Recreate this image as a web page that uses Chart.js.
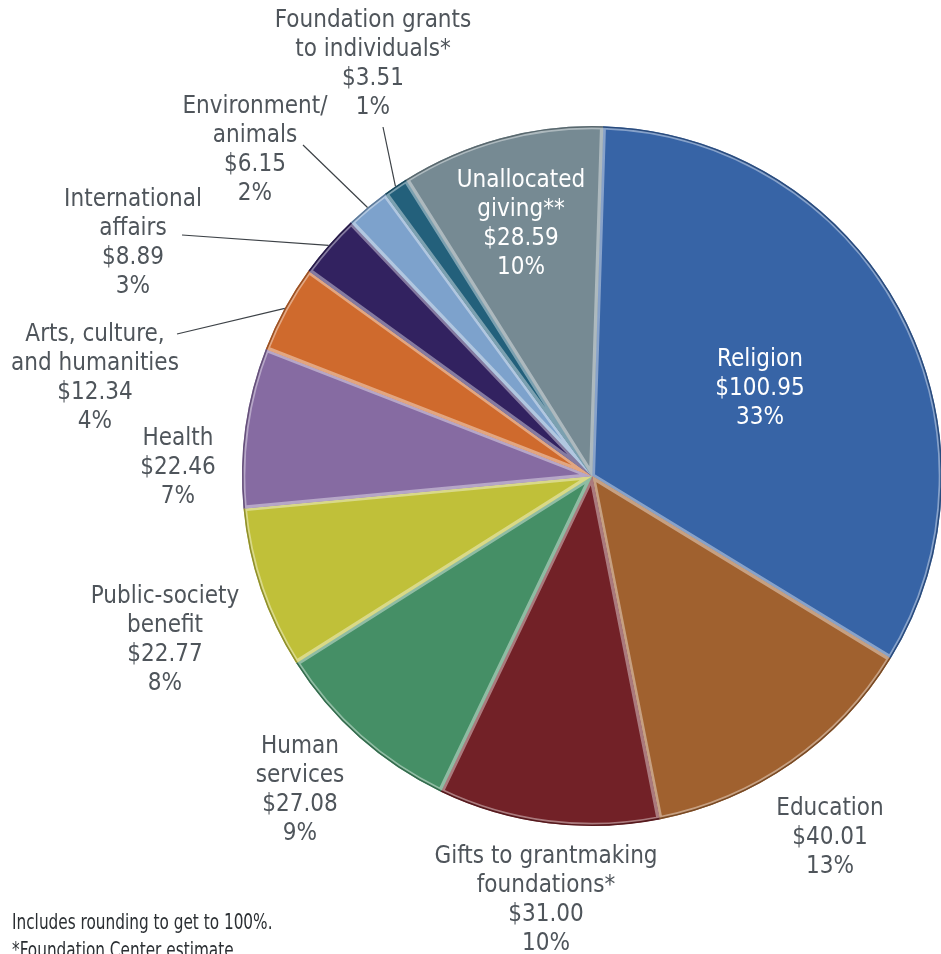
<!DOCTYPE html>
<html>
<head>
<meta charset="utf-8">
<script src="https://cdn.jsdelivr.net/npm/chart.js@4.4.1/dist/chart.umd.min.js"></script>
<style>
    html, body { margin: 0; padding: 0; background: #fff; }
    #wrap { position: relative; width: 941px; height: 954px; overflow: hidden; }
    #chartGiving { position: absolute; left: 0; top: 0; }
    .nota {
        position: absolute; left: 12px; white-space: nowrap;
        font-family: 'DejaVu Sans Condensed', 'DejaVu Sans', sans-serif;
        font-size: 21px; line-height: 24px; color: #2b2f33;
        transform: scaleX(0.81); transform-origin: left top;
    }
</style>
</head>
<body>
<div id="wrap">
    <canvas id="chartGiving" width="960" height="954"></canvas>
    <div class="nota" style="top: 910px;">Includes rounding to get to 100%.</div>
    <div class="nota" style="top: 938px;">*Foundation Center estimate</div>
</div>

<script>
// billions of dollars, clockwise from the top
var categorie = [
    'Religion',
    'Education',
    'Gifts to grantmaking\nfoundations*',
    'Human\nservices',
    'Public-society\nbenefit',
    'Health',
    'Arts, culture,\nand humanities',
    'International\naffairs',
    'Environment/\nanimals',
    'Foundation grants\nto individuals*',
    'Unallocated\ngiving**'
];
var importi = [100.95, 40.01, 31.00, 27.08, 22.77, 22.46, 12.34, 8.89, 6.15, 3.51, 28.59];
var percentuali = ['33%', '13%', '10%', '9%', '8%', '7%', '4%', '3%', '2%', '1%', '10%'];

var colori = ['#3764a6', '#a0612f', '#722127', '#458f66', '#c0c039', '#866ba2',
              '#cf6a2d', '#322260', '#7da2cc', '#23607b', '#768a93'];

// label block centre, offset from the pie centre; lead = start of the leader line
var posEtichette = [
    { dx: 168, dy: -87, bianco: true },
    { dx: 238, dy: 362 },
    { dx: -46, dy: 424 },
    { dx: -292, dy: 314 },
    { dx: -427, dy: 164 },
    { dx: -414, dy: -8 },
    { dx: -497, dy: -98, lead: [-415, -142] },
    { dx: -459, dy: -233, lead: [-410, -241] },
    { dx: -337, dy: -326, lead: [-289, -331] },
    { dx: -219, dy: -412, lead: [-209, -349] },
    { dx: -71, dy: -252, bianco: true }
];

function mescola(hex, target, t) {
    var n = parseInt(hex.slice(1), 16);
    var r = (n >> 16) & 255, g = (n >> 8) & 255, b = n & 255;
    r = Math.round(r + (target - r) * t);
    g = Math.round(g + (target - g) * t);
    b = Math.round(b + (target - b) * t);
    return 'rgb(' + r + ',' + g + ',' + b + ')';
}

var bordiChiari = colori.map(function(c) { return mescola(c, 255, 0.4); });
var bordiScuri = colori.map(function(c) { return mescola(c, 0, 0.25); });

var FONT = "24px 'DejaVu Sans Condensed', 'DejaVu Sans', sans-serif";
var RIGA = 29;

// darker rim round the outside of each slice
var bordoEsterno = {
    id: 'bordoEsterno',
    afterDatasetsDraw: function(chart) {
        var ctx = chart.ctx;
        var meta = chart.getDatasetMeta(0);
        ctx.save();
        meta.data.forEach(function(arc, i) {
            ctx.beginPath();
            ctx.arc(arc.x, arc.y, arc.outerRadius - 0.8, arc.startAngle, arc.endAngle);
            ctx.strokeStyle = bordiScuri[i];
            ctx.lineWidth = 1.6;
            ctx.stroke();
        });
        ctx.restore();
    }
};

var etichette = {
    id: 'etichette',
    afterDraw: function(chart) {
        var ctx = chart.ctx;
        var meta = chart.getDatasetMeta(0);
        ctx.save();
        ctx.font = FONT;
        ctx.textAlign = 'center';
        ctx.textBaseline = 'middle';
        meta.data.forEach(function(arc, i) {
            var pos = posEtichette[i];
            var righe = categorie[i].split('\n');
            righe.push('$' + importi[i].toFixed(2));
            righe.push(percentuali[i]);

            if (pos.lead) {
                var mid = (arc.startAngle + arc.endAngle) / 2;
                ctx.beginPath();
                ctx.moveTo(arc.x + pos.lead[0], arc.y + pos.lead[1]);
                ctx.lineTo(arc.x + Math.cos(mid) * arc.outerRadius, arc.y + Math.sin(mid) * arc.outerRadius);
                ctx.strokeStyle = '#3d4247';
                ctx.lineWidth = 1.2;
                ctx.stroke();
            }

            ctx.fillStyle = pos.bianco ? '#ffffff' : '#4f555b';
            var cx = arc.x + pos.dx;
            var y0 = arc.y + pos.dy - (righe.length - 1) * RIGA / 2;
            righe.forEach(function(t, k) {
                ctx.fillText(t, cx, y0 + k * RIGA);
            });
        });
        ctx.restore();
    }
};

var ctx = document.getElementById('chartGiving').getContext('2d');
var chart = new Chart(ctx, {
    type: 'pie',
    data: {
        labels: categorie,
        datasets: [{
            data: importi,
            backgroundColor: colori,
            borderColor: bordiChiari,
            borderWidth: 3,
            borderAlign: 'inner'
        }]
    },
    options: {
        responsive: false,
        animation: false,
        rotation: 1.8,
        layout: { padding: { left: 242, right: 18, top: 126, bottom: 128 } },
        plugins: {
            legend: { display: false },
            tooltip: { enabled: false }
        }
    },
    plugins: [bordoEsterno, etichette]
});
</script>
</body>
</html>
